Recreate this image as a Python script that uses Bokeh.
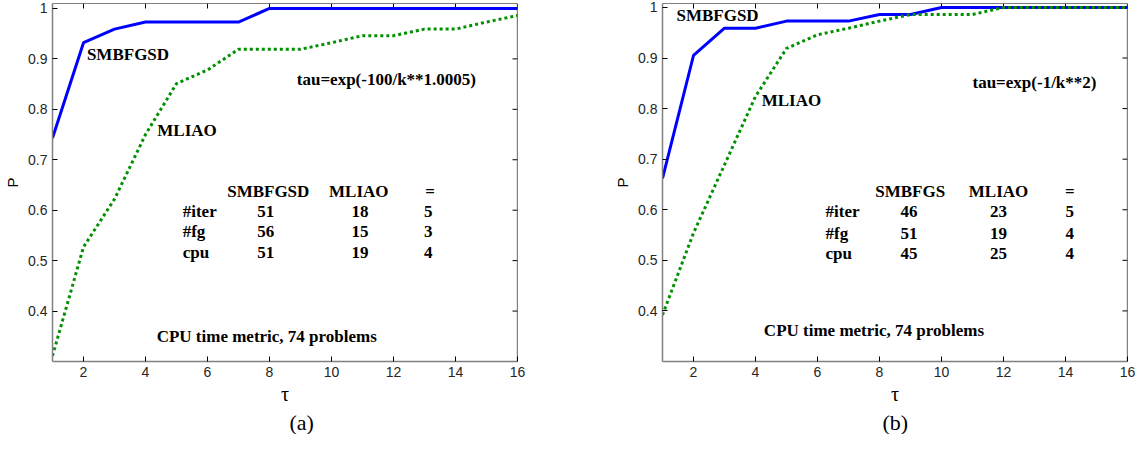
from bokeh.plotting import figure
from bokeh.models import Range1d, FixedTicker, NumeralTickFormatter, Span, Title
from bokeh.layouts import row
from bokeh.embed import file_html
from bokeh.resources import INLINE
from bokeh.core.properties import value

# ---------------- data ----------------
tau = list(range(1, 17))
xticks = [2, 4, 6, 8, 10, 12, 14, 16]
yticks = [0.4, 0.5, 0.6, 0.7, 0.8, 0.9, 1.0]

smb_a = [0.743, 0.932, 0.959, 0.973, 0.973, 0.973, 0.973, 1.0, 1.0, 1.0, 1.0, 1.0, 1.0, 1.0, 1.0, 1.0]
mli_a = [0.311, 0.527, 0.622, 0.750, 0.851, 0.878, 0.919, 0.919, 0.919, 0.932, 0.946, 0.946, 0.959, 0.959, 0.973, 0.986]

smb_b = [0.662, 0.905, 0.959, 0.959, 0.973, 0.973, 0.973, 0.986, 0.986, 1.0, 1.0, 1.0, 1.0, 1.0, 1.0, 1.0]
mli_b = [0.392, 0.554, 0.689, 0.824, 0.919, 0.946, 0.959, 0.973, 0.986, 0.986, 0.986, 1.0, 1.0, 1.0, 1.0, 1.0]

row_names = ["#iter", "#fg", "cpu"]
head_a = ["SMBFGSD", "MLIAO", "="]
tab_a_smb = [51, 56, 51]
tab_a_mli = [18, 15, 19]
tab_a_eq = [5, 3, 4]

head_b = ["SMBFGS", "MLIAO", "="]
tab_b_smb = [46, 51, 45]
tab_b_mli = [23, 19, 25]
tab_b_eq = [5, 4, 4]

tau_a = "tau=exp(-100/k**1.0005)"
tau_b = "tau=exp(-1/k**2)"
note = "CPU time metric, 74 problems"

SERIF = value("Liberation Serif")
FS = "17px"
XMIN, XMAX, YMIN = 1, 16, 0.3


def style_axes(p, ymax):
    p.xgrid.visible = False
    p.ygrid.visible = False
    p.outline_line_color = None
    xa = p.xaxis[0]
    ya = p.yaxis[0]
    xa.ticker = FixedTicker(ticks=xticks)
    ya.ticker = FixedTicker(ticks=yticks)
    ya.formatter = NumeralTickFormatter(format="0.[0]")
    for ax in (xa, ya):
        ax.axis_line_color = "#808080"
        ax.axis_line_width = 1.5
        ax.major_tick_in = 5
        ax.major_tick_out = 0
        ax.minor_tick_in = 0
        ax.minor_tick_out = 0
        ax.major_tick_line_color = "#000000"
        ax.major_label_text_font = "Liberation Sans"
        ax.major_label_text_font_size = "14px"
        ax.major_label_text_color = "#262626"
        ax.major_label_standoff = 5
    xa.axis_label = "τ"
    xa.axis_label_text_font = "Liberation Serif"
    xa.axis_label_text_font_size = "20px"
    xa.axis_label_text_font_style = "normal"
    xa.axis_label_text_color = "#000000"
    xa.axis_label_standoff = 3
    ya.axis_label = "P"
    ya.axis_label_text_font = "Liberation Sans"
    ya.axis_label_text_font_size = "15px"
    ya.axis_label_text_font_style = "normal"
    ya.axis_label_text_color = "#000000"
    ya.axis_label_standoff = 4
    # box: top and right edges with inward ticks
    p.add_layout(Span(location=ymax, dimension="width", line_color="#000000", line_width=1.2))
    p.add_layout(Span(location=XMAX, dimension="height", line_color="#000000", line_width=1.2))
    p.ray(x=xticks, y=[ymax] * len(xticks), length=5, length_units="screen",
          angle=-90, angle_units="deg", line_color="#000000", line_width=1)
    p.ray(x=[XMAX] * len(yticks), y=yticks, length=5, length_units="screen",
          angle=180, angle_units="deg", line_color="#000000", line_width=1)


def panel(width, mb_left, mb_top, frame_h, ymax, smb, mli, lab, cap, cap_offset):
    frame_w = 465
    height = 434
    p = figure(width=width, height=height, x_range=Range1d(XMIN, XMAX), y_range=Range1d(YMIN, ymax),
               output_backend="svg", toolbar_location=None,
               min_border_left=mb_left, min_border_right=width - mb_left - frame_w,
               min_border_top=mb_top, min_border_bottom=height - mb_top - frame_h)
    style_axes(p, ymax)
    p.line(tau, smb, line_color="#0000ff", line_width=3)
    p.line(tau, mli, line_color="#009000", line_width=3, line_dash="3 3")

    # curve labels, formula and note (left aligned)
    p.text(x=lab["lx"], y=lab["ly"], text=lab["lt"], text_font=SERIF, text_font_style="bold",
           text_font_size=FS, text_align="left", text_baseline="middle", text_color="#000000")
    # table header
    p.text(x=lab["hx"], y=[lab["hy"]] * 3, text=lab["head"], text_font=SERIF, text_font_style="bold",
           text_font_size=FS, text_align="center", text_baseline="middle", text_color="#000000")
    # row names
    p.text(x=[lab["rx"]] * 3, y=lab["ry"], text=row_names, text_font=SERIF, text_font_style="bold",
           text_font_size=FS, text_align="left", text_baseline="middle", text_color="#000000")
    # values
    for cx, col in zip(lab["cx"], lab["cols"]):
        p.text(x=[cx] * 3, y=lab["ry"], text=[str(v) for v in col], text_font=SERIF,
               text_font_style="bold", text_font_size=FS, text_align="center",
               text_baseline="middle", text_color="#000000")
    # sub-figure caption below the axis
    t = Title(text=cap, align="left", offset=cap_offset, text_font="Liberation Serif",
              text_font_size="22px", text_font_style="normal", text_color="#000000", standoff=0)
    p.add_layout(t, "below")
    return p


lab_a = dict(
    lx=[2.11, 4.38, 8.88, 4.36], ly=[0.908, 0.758, 0.859, 0.35],
    lt=["SMBFGSD", "MLIAO", tau_a, note],
    hx=[7.96, 10.88, 13.18], hy=0.638, head=head_a,
    rx=5.2, ry=[0.598, 0.557, 0.516],
    cx=[7.88, 10.92, 13.12], cols=[tab_a_smb, tab_a_mli, tab_a_eq],
)
lab_b = dict(
    lx=[1.45, 4.2, 11.0, 4.27], ly=[0.984, 0.817, 0.852, 0.361],
    lt=["SMBFGSD", "MLIAO", tau_b, note],
    hx=[8.99, 11.84, 14.14], hy=0.636, head=head_b,
    rx=6.26, ry=[0.596, 0.554, 0.514],
    cx=[8.95, 11.84, 14.14], cols=[tab_b_smb, tab_b_mli, tab_b_eq],
)

p1 = panel(592, 52, 2, 362, 1.0098, smb_a, mli_a, lab_a, "(a)", 237)
p2 = panel(546, 70, 3, 363, 1.0078, smb_b, mli_b, lab_b, "(b)", 220)

layout = row(p1, p2)
open("out.html", "w").write(file_html(layout, INLINE))
